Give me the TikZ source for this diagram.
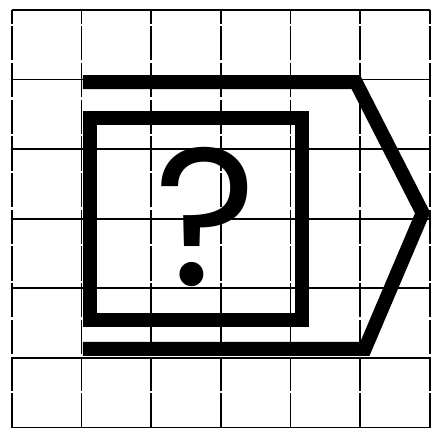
\documentclass[tikz,border=0pt]{standalone}
\usepackage{fontspec}
\newfontfamily\signfont{Poppins}

\begin{document}
\begin{tikzpicture}[
  gridline/.style={line width=0.7pt},
  gridvert/.style={line width=0.7pt, dash pattern=on 14pt off 1pt},
  signline/.style={line width=0.2cm, line join=miter},
  signmark/.style={font=\signfont\fontsize{80}{80}\selectfont, inner sep=0pt, anchor=base},
]
\useasboundingbox (-0.17,-0.04) rectangle (6.12,6.14);
% grid
\foreach \y in {0,...,6} \draw[gridline] (0,\y) -- (6,\y);
\foreach \x in {0,...,6} \draw[gridvert] (\x,0) -- (\x,6);
% arrow outline, open at the left
\draw[signline] (1.02,4.96) -- (4.94,4.96) -- (5.9,3.08) -- (5.07,1.13) -- (1.02,1.13);
% inner square
\draw[signline] (1.12,1.54) rectangle (4.17,4.45);
\node[signmark] (qmark) at (2.78,2.04) {?};
\end{tikzpicture}
\end{document}
